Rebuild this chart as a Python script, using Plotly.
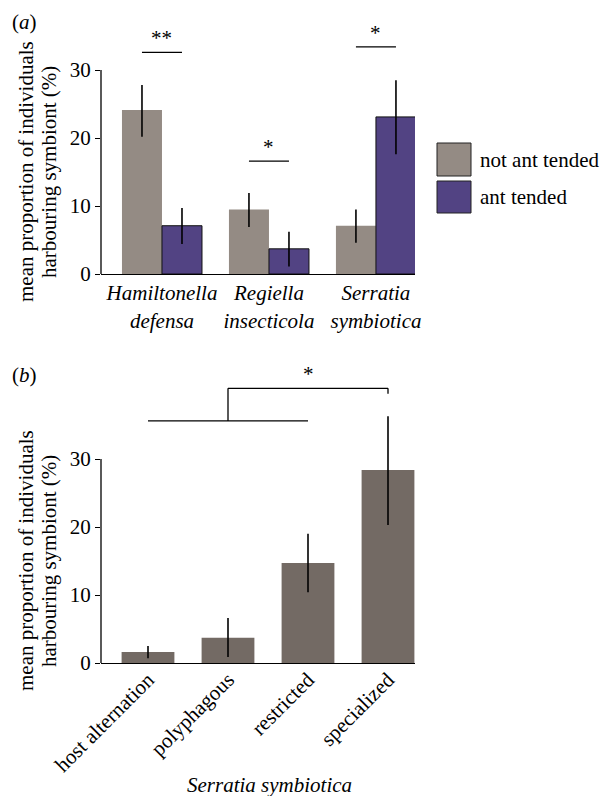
import plotly.graph_objects as go

# ---------------- data ----------------
# panel (a)
species = ["Hamiltonella", "Regiella", "Serratia"]
species_lab = ["<i>Hamiltonella</i><br><i>defensa</i>",
               "<i>Regiella</i><br><i>insecticola</i>",
               "<i>Serratia</i><br><i>symbiotica</i>"]
not_tended = [24.1, 9.5, 7.1]
not_tended_hi = [3.7, 2.4, 2.4]
not_tended_lo = [3.9, 2.6, 2.5]
tended = [7.1, 3.7, 23.1]
tended_hi = [2.6, 2.5, 5.4]
tended_lo = [2.7, 2.6, 5.5]
sig_a = ["**", "*", "*"]
sig_a_level = [32.6, 16.6, 33.4]

# panel (b)
host_cat = ["host alternation", "polyphagous", "restricted", "specialized"]
host_val = [1.6, 3.7, 14.7, 28.4]
host_hi = [0.9, 2.9, 4.3, 7.9]
host_lo = [0.9, 2.8, 4.3, 8.1]
bracket_low = 35.6
bracket_top = 40.4
bracket_drop = 39.6
ytick_vals = [0, 10, 20, 30]
axis_max = 30

# ---------------- style ----------------
W, H = 602, 796
FONT = "Liberation Serif"
FS = 21
C_NOT = "#948b84"
C_ANT = "#524383"
C_B = "#736a64"
PXU = 6.8  # pixels per percent unit

def px(x):
    return x / W

def py(y):
    return 1 - y / H

YR_A = [0, 34]
YR_B = [0, 42]
XDOM = [px(101), px(415)]
YDOM_A = [py(274), py(274 - YR_A[1] * PXU)]
YDOM_B = [py(663), py(663 - YR_B[1] * PXU)]

BW = 0.374

fig = go.Figure()
xa = list(range(len(species)))
fig.add_trace(go.Bar(
    x=xa, y=not_tended, name="not ant tended", xaxis="x", yaxis="y",
    offset=-BW, width=BW, marker=dict(color=C_NOT, line=dict(width=0)),
    error_y=dict(type="data", array=not_tended_hi, arrayminus=not_tended_lo,
                 color="black", thickness=1.6, width=0),
    showlegend=False))
fig.add_trace(go.Bar(
    x=xa, y=tended, name="ant tended", xaxis="x", yaxis="y",
    offset=0, width=BW, marker=dict(color=C_ANT, line=dict(width=1, color="#111111")),
    error_y=dict(type="data", array=tended_hi, arrayminus=tended_lo,
                 color="black", thickness=1.6, width=0),
    showlegend=False))

xb = list(range(len(host_cat)))
fig.add_trace(go.Bar(
    x=xb, y=host_val, xaxis="x2", yaxis="y2", width=0.66,
    marker=dict(color=C_B, line=dict(width=0)),
    error_y=dict(type="data", array=host_hi, arrayminus=host_lo,
                 color="black", thickness=1.6, width=0),
    showlegend=False))

tickfont = dict(family=FONT, size=FS, color="black")
xaxis_common = dict(showgrid=False, zeroline=False, showline=True,
                    linecolor="black", linewidth=1.3, automargin=False)
yaxis_common = dict(showgrid=False, zeroline=False, showline=False, automargin=False,
                    tickvals=ytick_vals, ticks="outside", ticklen=5, tickwidth=1.3,
                    tickcolor="black", tickfont=tickfont)

fig.update_layout(
    template="none",
    width=W, height=H, autosize=False,
    margin=dict(l=0, r=0, t=0, b=0, pad=0),
    paper_bgcolor="white", plot_bgcolor="white",
    barmode="group",
    font=dict(family=FONT, size=FS, color="black"),
    xaxis=dict(domain=XDOM, anchor="y", range=[-0.57, 2.365],
               tickmode="array", tickvals=xa, ticktext=species_lab,
               tickangle=0, ticks="", tickfont=tickfont, **xaxis_common),
    yaxis=dict(domain=YDOM_A, anchor="x", range=YR_A, **yaxis_common),
    xaxis2=dict(domain=XDOM, anchor="y2", range=[-0.5875, 3.3375],
                tickmode="array", tickvals=xb, ticktext=host_cat,
                tickangle=-45, ticks="", ticklabelstandoff=-5,
                tickfont=tickfont, **xaxis_common),
    yaxis2=dict(domain=YDOM_B, anchor="x2", range=YR_B, **yaxis_common),
)

shapes = []
annots = []
LW = 1.3

# y axis lines (only from 0 to 30)
for yref in ("y", "y2"):
    shapes.append(dict(type="line", xref="paper", yref=yref,
                       x0=XDOM[0], x1=XDOM[0], y0=0, y1=axis_max,
                       line=dict(color="black", width=LW)))

# significance lines, panel (a)
for i, (s, lev) in enumerate(zip(sig_a, sig_a_level)):
    shapes.append(dict(type="line", xref="x", yref="y",
                       x0=i - 0.187, x1=i + 0.187, y0=lev, y1=lev,
                       line=dict(color="black", width=LW)))
    annots.append(dict(text=s, xref="x", yref="y", x=i, y=lev,
                       xanchor="center", yanchor="bottom", showarrow=False,
                       font=dict(family=FONT, size=FS)))

# bracket, panel (b)
for (x0, y0, x1, y1) in [(0, bracket_low, 2, bracket_low), (1, bracket_low, 1, bracket_top),
                         (1, bracket_top, 3, bracket_top), (3, bracket_top, 3, bracket_drop)]:
    shapes.append(dict(type="line", xref="x2", yref="y2",
                       x0=x0, x1=x1, y0=y0, y1=y1,
                       line=dict(color="black", width=LW)))
annots.append(dict(text="*", xref="x2", yref="y2", x=2, y=bracket_top,
                   xanchor="center", yanchor="bottom", showarrow=False,
                   font=dict(family=FONT, size=FS)))

# legend (manual)
for (lab, col, y0, y1) in [("not ant tended", C_NOT, 143, 176), ("ant tended", C_ANT, 181, 213)]:
    shapes.append(dict(type="rect", xref="paper", yref="paper",
                       x0=px(437), x1=px(471), y0=py(y1), y1=py(y0),
                       fillcolor=col, line=dict(color="#222222", width=1)))
    annots.append(dict(text=lab, xref="paper", yref="paper",
                       x=px(478), y=py((y0 + y1) / 2), xanchor="left", yanchor="middle",
                       showarrow=False, font=dict(family=FONT, size=FS)))

# panel labels
annots.append(dict(text="(<i>a</i>)", xref="paper", yref="paper", x=px(10), y=py(22),
                   xanchor="left", yanchor="middle", showarrow=False,
                   font=dict(family=FONT, size=FS)))
annots.append(dict(text="(<i>b</i>)", xref="paper", yref="paper", x=px(10), y=py(375),
                   xanchor="left", yanchor="middle", showarrow=False,
                   font=dict(family=FONT, size=FS)))

# y-axis titles (centred on the 0-30 part of each axis)
for base in (274, 663):
    yc = py(base - axis_max * PXU / 2)
    for txt, xc in [("mean proportion of individuals", 26), ("harbouring symbiont (%)", 49)]:
        annots.append(dict(text=txt, xref="paper", yref="paper", x=px(xc), y=yc,
                           xanchor="center", yanchor="middle", textangle=-90,
                           showarrow=False, font=dict(family=FONT, size=FS)))

# x-axis title panel (b)
annots.append(dict(text="<i>Serratia symbiotica</i>", xref="paper", yref="paper",
                   x=px(269), y=py(785), xanchor="center", yanchor="middle",
                   showarrow=False, font=dict(family=FONT, size=FS)))

fig.update_layout(shapes=shapes, annotations=annots)
fig.write_html("out.html", config={"displayModeBar": False},
               post_script="document.body.style.margin='0';document.body.style.overflow='hidden';")
